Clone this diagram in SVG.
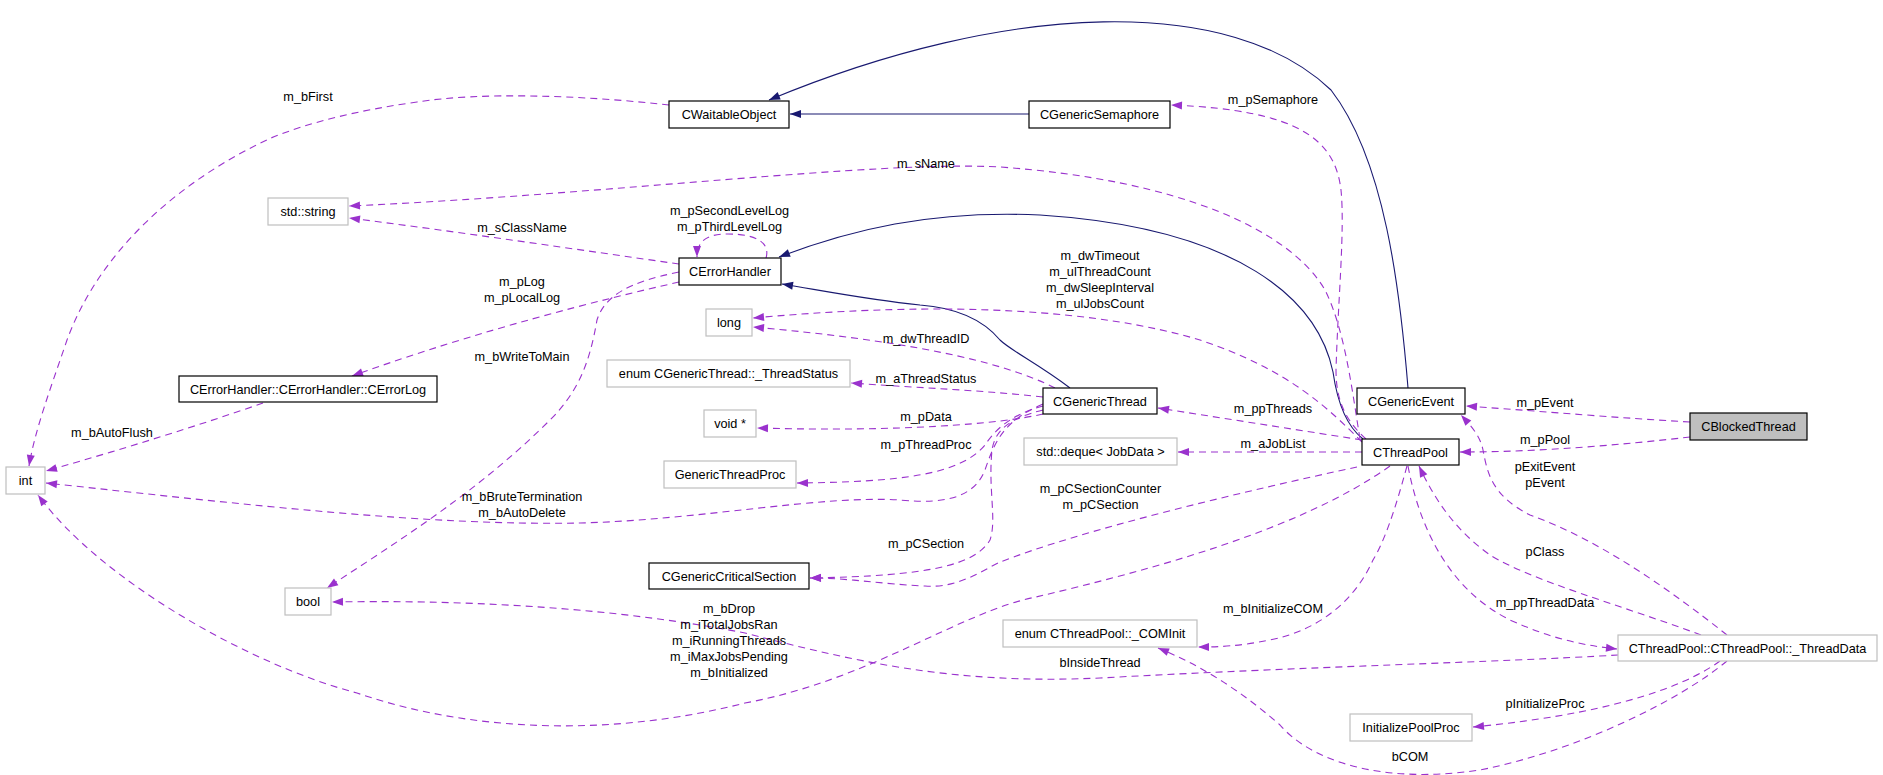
<svg xmlns="http://www.w3.org/2000/svg" width="1883" height="775" viewBox="0 0 1883 775">
<style>
text{font-family:"Liberation Sans",Arial,sans-serif;font-size:12.7px;fill:#000;text-anchor:middle}
.c rect{fill:#fff;stroke:#000;stroke-width:1.2}
.x rect{fill:#fff;stroke:#bfbfbf;stroke-width:1.2}
.u{fill:none;stroke:#9a32cd;stroke-width:1.1;stroke-dasharray:7,5;marker-end:url(#pa)}
.i{fill:none;stroke:#191970;stroke-width:1.1;marker-end:url(#ba)}
</style>
<defs>
<marker id="pa" markerUnits="userSpaceOnUse" markerWidth="12" markerHeight="10" refX="11" refY="4" orient="auto" overflow="visible"><path d="M0,0 L11,4 L0,8 z" fill="#9a32cd"/></marker>
<marker id="ba" markerUnits="userSpaceOnUse" markerWidth="12" markerHeight="10" refX="11" refY="4" orient="auto" overflow="visible"><path d="M0,0 L11,4 L0,8 z" fill="#191970"/></marker>
</defs>
<rect width="1883" height="775" fill="#fff"/>
<g id="connectors">
<path class="i" d="M1029,114 L790,114"/>
<path class="i" d="M1408,388 C1400,290 1385,160 1331,90 C1232,-5 1010,0 769,100"/>
<path class="i" d="M1363,439 C1345,425 1337,400 1333,372 C1318,300 1240,228 1040,215 C930,210 850,230 779,257"/>
<path class="i" d="M1070,388 C1040,365 1010,350 1000,340 C985,322 960,308 920,305 C870,300 830,292 782,284"/>
<path class="u" d="M669,105 C580,95 480,92 417,102 C360,110 310,122 271,138 C180,180 100,250 67,340 C50,390 35,430 29,466"/>
<path class="u" d="M1366,439 C1345,420 1336,400 1336,370 C1338,300 1345,230 1341,190 C1335,140 1300,110 1171,105"/>
<path class="u" d="M1360,439 C1352,390 1345,330 1325,290 C1290,230 1180,180 1000,167 C880,160 600,195 349,206"/>
<path class="u" d="M679,264 C580,250 460,232 349,218"/>
<path class="u" d="M679,282 C600,300 480,330 352,376"/>
<path class="u" d="M679,272 C630,282 605,295 597,320 C590,360 580,390 550,420 C480,490 400,540 327,588"/>
<path class="u" d="M766,258 C770,245 760,234 728,234 C708,234 697,240 697,257"/>
<path class="u" d="M263,403 C200,425 120,450 46,471"/>
<path class="u" d="M1362,442 C1330,410 1290,370 1200,340 C1100,310 950,300 753,318"/>
<path class="u" d="M1055,388 C1000,360 900,340 753,327"/>
<path class="u" d="M1043,397 C980,390 920,388 851,383"/>
<path class="u" d="M1043,414 C1000,424 900,432 757,428"/>
<path class="u" d="M1043,406 C1010,415 995,430 985,445 C960,475 900,482 797,483"/>
<path class="u" d="M1043,404 C1005,420 995,440 985,470 C975,495 950,505 900,500 C820,495 700,520 580,523 C430,526 250,505 46,483"/>
<path class="u" d="M1618,655 C1500,662 1300,667 1100,678 C950,685 850,660 745,633 C600,605 450,600 332,602"/>
<path class="u" d="M1390,466 C1300,530 1150,570 1036,597 C960,612 870,680 745,703 C620,735 480,735 357,693 C250,665 100,580 38,495"/>
<path class="u" d="M1043,410 C1010,418 995,430 992,450 C988,490 997,520 990,540 C975,565 930,576 810,578"/>
<path class="u" d="M1357,467 C1250,490 1080,530 998,563 C975,575 955,588 925,586 C880,584 850,578 810,578"/>
<path class="u" d="M1362,440 L1158,408"/>
<path class="u" d="M1362,452 L1178,452"/>
<path class="u" d="M1407,466 C1395,510 1385,540 1373,560 C1355,600 1320,630 1270,640 C1240,646 1220,647 1198,647"/>
<path class="u" d="M1727,661 C1680,700 1580,750 1480,770 C1380,785 1310,760 1280,725 C1240,690 1200,665 1158,648"/>
<path class="u" d="M1720,661 C1680,690 1600,715 1473,727"/>
<path class="u" d="M1701,635 C1620,605 1530,580 1490,555 C1455,530 1435,500 1419,466"/>
<path class="u" d="M1408,466 C1420,530 1450,590 1510,620 C1550,638 1580,645 1617,649"/>
<path class="u" d="M1727,635 C1670,590 1600,540 1530,515 C1490,495 1487,470 1483,450 C1480,435 1470,425 1461,415"/>
<path class="u" d="M1690,422 C1620,418 1550,412 1466,406"/>
<path class="u" d="M1690,437 C1620,445 1540,452 1460,452"/>
</g>
<g id="labels">
<text x="308" y="101">m_bFirst</text>
<text x="1273" y="103.5">m_pSemaphore</text>
<text x="926" y="168">m_sName</text>
<text x="522" y="232">m_sClassName</text>
<text x="729.5" y="215">m_pSecondLevelLog</text>
<text x="729.5" y="231">m_pThirdLevelLog</text>
<text x="522" y="285.5">m_pLog</text>
<text x="522" y="301.5">m_pLocalLog</text>
<text x="1100" y="259.5">m_dwTimeout</text>
<text x="1100" y="275.5">m_ulThreadCount</text>
<text x="1100" y="291.5">m_dwSleepInterval</text>
<text x="1100" y="307.5">m_ulJobsCount</text>
<text x="522" y="360.5">m_bWriteToMain</text>
<text x="926" y="343">m_dwThreadID</text>
<text x="926" y="383">m_aThreadStatus</text>
<text x="926" y="421">m_pData</text>
<text x="926" y="449">m_pThreadProc</text>
<text x="112" y="437">m_bAutoFlush</text>
<text x="522" y="501">m_bBruteTermination</text>
<text x="522" y="517">m_bAutoDelete</text>
<text x="1100.5" y="493">m_pCSectionCounter</text>
<text x="1100.5" y="509">m_pCSection</text>
<text x="926" y="548">m_pCSection</text>
<text x="1273" y="413">m_ppThreads</text>
<text x="1273" y="448">m_aJobList</text>
<text x="729" y="613">m_bDrop</text>
<text x="729" y="629">m_iTotalJobsRan</text>
<text x="729" y="645">m_iRunningThreads</text>
<text x="729" y="661">m_iMaxJobsPending</text>
<text x="729" y="677">m_bInitialized</text>
<text x="1273" y="613">m_bInitializeCOM</text>
<text x="1100" y="667">bInsideThread</text>
<text x="1545" y="407">m_pEvent</text>
<text x="1545" y="444">m_pPool</text>
<text x="1545" y="471">pExitEvent</text>
<text x="1545" y="487">pEvent</text>
<text x="1545" y="556">pClass</text>
<text x="1545" y="607">m_ppThreadData</text>
<text x="1545" y="708">pInitializeProc</text>
<text x="1410" y="761">bCOM</text>
</g>
<g id="CWaitableObject" class="c"><rect x="669" y="101" width="120" height="27"/><text x="729" y="119">CWaitableObject</text></g>
<g id="CGenericSemaphore" class="c"><rect x="1029" y="101" width="141" height="27"/><text x="1099.5" y="119">CGenericSemaphore</text></g>
<g id="std_string" class="x"><rect x="268" y="198" width="80" height="27"/><text x="308" y="216">std::string</text></g>
<g id="CErrorHandler" class="c"><rect x="679" y="258" width="102" height="27"/><text x="730" y="276">CErrorHandler</text></g>
<g id="long" class="x"><rect x="706" y="309" width="46" height="27"/><text x="729" y="327">long</text></g>
<g id="CErrorLog" class="c"><rect x="179" y="376" width="258" height="26"/><text x="308" y="394">CErrorHandler::CErrorHandler::CErrorLog</text></g>
<g id="ThreadStatus" class="x"><rect x="607" y="360" width="243" height="27"/><text x="728.5" y="378">enum CGenericThread::_ThreadStatus</text></g>
<g id="CGenericThread" class="c"><rect x="1043" y="388" width="114" height="26"/><text x="1100" y="406">CGenericThread</text></g>
<g id="void_ptr" class="x"><rect x="704" y="410" width="52" height="27"/><text x="730" y="428">void *</text></g>
<g id="CGenericEvent" class="c"><rect x="1357" y="388" width="108" height="26"/><text x="1411" y="406">CGenericEvent</text></g>
<g id="CBlockedThread"><rect x="1690" y="413" width="117" height="27" fill="#bfbfbf" stroke="#000" stroke-width="1.2"/><text x="1748.5" y="431">CBlockedThread</text></g>
<g id="CThreadPool" class="c"><rect x="1362" y="439" width="97" height="26"/><text x="1410.5" y="457">CThreadPool</text></g>
<g id="std_deque" class="x"><rect x="1024" y="438" width="153" height="27"/><text x="1100.5" y="456">std::deque&lt; JobData &gt;</text></g>
<g id="GenericThreadProc" class="x"><rect x="664" y="461" width="132" height="27"/><text x="730" y="479">GenericThreadProc</text></g>
<g id="int" class="x"><rect x="6" y="467" width="39" height="27"/><text x="25.5" y="485">int</text></g>
<g id="CGenericCriticalSection" class="c"><rect x="649" y="563" width="160" height="26"/><text x="729" y="581">CGenericCriticalSection</text></g>
<g id="bool" class="x"><rect x="285" y="588" width="46" height="27"/><text x="308" y="606">bool</text></g>
<g id="COMInit" class="x"><rect x="1003" y="620" width="194" height="27"/><text x="1100" y="638">enum CThreadPool::_COMInit</text></g>
<g id="ThreadData" class="x"><rect x="1618" y="635" width="259" height="26"/><text x="1747.5" y="653">CThreadPool::CThreadPool::_ThreadData</text></g>
<g id="InitializePoolProc" class="x"><rect x="1350" y="714" width="122" height="27"/><text x="1411" y="732">InitializePoolProc</text></g>
</svg>
